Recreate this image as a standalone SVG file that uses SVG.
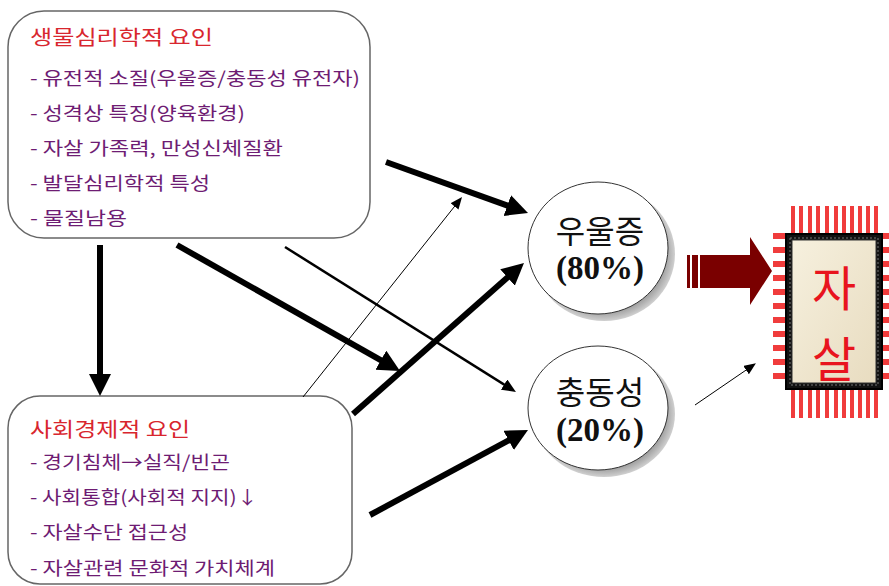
<svg xmlns="http://www.w3.org/2000/svg" width="889" height="586" viewBox="0 0 889 586">
<defs>
<style>
.box{fill:#fff;stroke:#666;stroke-width:1.5}
.ttl{font-family:"Noto Sans CJK KR","Liberation Sans",sans-serif;font-size:20px;fill:#d8262e}
.itm{font-family:"Noto Sans CJK KR","Liberation Sans",sans-serif;font-size:18px;fill:#6e1c73}
.kr{font-family:"Noto Sans CJK KR",sans-serif;font-size:32px;fill:#111}
.pct{font-family:"Liberation Serif","Times New Roman",serif;font-weight:700;font-size:33px;fill:#111}
.big{font-family:"Noto Sans CJK KR",sans-serif;font-size:48px;fill:#e8141e}
.thick{stroke:#000;stroke-width:6;fill:none}
.med{stroke:#000;stroke-width:2.5;fill:none}
.thin{stroke:#000;stroke-width:1;fill:none}
.spk{stroke:#f03c3c;fill:none}
</style>
<marker id="ah" markerUnits="userSpaceOnUse" markerWidth="24" markerHeight="24" refX="12" refY="11" orient="auto">
<path d="M0,0 L22,11 L0,22 z" fill="#000"/>
</marker>
<marker id="am" markerUnits="userSpaceOnUse" markerWidth="16" markerHeight="14" refX="8" refY="6" orient="auto">
<path d="M0,0 L14,6 L0,12 z" fill="#000"/>
</marker>
<marker id="as" markerUnits="userSpaceOnUse" markerWidth="14" markerHeight="12" refX="6" refY="5" orient="auto">
<path d="M0,0 L12,5 L0,10 z" fill="#000"/>
</marker>
<radialGradient id="sh" cx="0.5" cy="0.5" r="0.5">
<stop offset="0.85" stop-color="#9a9a9a"/>
<stop offset="1" stop-color="#d0d0d0"/>
</radialGradient>
<linearGradient id="beige" x1="0" y1="0" x2="1" y2="1">
<stop offset="0" stop-color="#f6f0de"/>
<stop offset="1" stop-color="#e8dcc0"/>
</linearGradient>
</defs>

<g id="bio">
<rect class="box" x="8" y="11" width="362" height="227" rx="36" ry="36"/>
<text class="ttl" x="30" y="45" textLength="183" lengthAdjust="spacingAndGlyphs">생물심리학적 요인</text>
<text class="itm" x="30" y="85" textLength="330" lengthAdjust="spacingAndGlyphs">- 유전적 소질(우울증/충동성 유전자)</text>
<text class="itm" x="30" y="120" textLength="215" lengthAdjust="spacingAndGlyphs">- 성격상 특징(양육환경)</text>
<text class="itm" x="30" y="155" textLength="253" lengthAdjust="spacingAndGlyphs">- 자살 가족력, 만성신체질환</text>
<text class="itm" x="30" y="190" textLength="180" lengthAdjust="spacingAndGlyphs">- 발달심리학적 특성</text>
<text class="itm" x="30" y="225" textLength="97" lengthAdjust="spacingAndGlyphs">- 물질남용</text>
</g>

<g id="socio">
<rect class="box" x="8" y="396" width="344" height="188" rx="32" ry="32"/>
<text class="ttl" x="30" y="437" textLength="160" lengthAdjust="spacingAndGlyphs">사회경제적 요인</text>
<text class="itm" x="30" y="469" textLength="200" lengthAdjust="spacingAndGlyphs">- 경기침체→실직/빈곤</text>
<text class="itm" x="30" y="504" textLength="228" lengthAdjust="spacingAndGlyphs">- 사회통합(사회적 지지)↓</text>
<text class="itm" x="30" y="539" textLength="158" lengthAdjust="spacingAndGlyphs">- 자살수단 접근성</text>
<text class="itm" x="30" y="575" textLength="245" lengthAdjust="spacingAndGlyphs">- 자살관련 문화적 가치체계</text>
</g>

<g id="depression">
<ellipse cx="604" cy="254" rx="71" ry="67" fill="url(#sh)"/>
<ellipse cx="598" cy="248" rx="70" ry="66" fill="#fff" stroke="#333" stroke-width="1"/>
<text class="kr" x="600" y="243" text-anchor="middle">우울증</text>
<text class="pct" x="600" y="279" text-anchor="middle">(80%)</text>
</g>

<g id="impulsivity">
<ellipse cx="604" cy="414" rx="71" ry="63" fill="url(#sh)"/>
<ellipse cx="598" cy="408" rx="70" ry="62" fill="#fff" stroke="#333" stroke-width="1"/>
<text class="kr" x="600" y="404" text-anchor="middle">충동성</text>
<text class="pct" x="600" y="441" text-anchor="middle">(20%)</text>
</g>

<g id="big-arrow">
<rect x="687" y="255" width="3" height="33" fill="#7a0000"/>
<rect x="692" y="255" width="6" height="33" fill="#7a0000"/>
<polygon points="700,255 750,255 750,237 772,271 750,305 750,288 700,288" fill="#7a0000"/>
</g>

<g id="suicide">
<path class="spk" stroke-width="4" d="M793,206V236 M801,206V236 M810,206V236 M818,206V236 M827,206V236 M836,206V236 M844,206V236 M852,206V236 M860,206V236 M868,206V236 M876,206V236"/>
<path class="spk" stroke-width="4" d="M793,388V418 M801,388V418 M810,388V418 M818,388V418 M827,388V418 M836,388V418 M844,388V418 M852,388V418 M860,388V418 M868,388V418 M876,388V418"/>
<path class="spk" stroke-width="6" d="M773,236H790 M773,250H790 M773,264H790 M773,278H790 M773,292H790 M773,306H790 M773,320H790 M773,334H790 M773,348H790 M773,362H790 M773,376H790"/>
<path class="spk" stroke-width="6" d="M878,236H889 M878,250H889 M878,264H889 M878,278H889 M878,292H889 M878,306H889 M878,320H889 M878,334H889 M878,348H889 M878,362H889 M878,376H889"/>
<rect x="786" y="234" width="96" height="155" fill="#111" stroke="#000" stroke-width="2"/>
<rect x="790" y="238" width="88" height="147" fill="none" stroke="#777" stroke-width="1" stroke-dasharray="2,2"/>
<rect x="792" y="240" width="84" height="143" fill="url(#beige)" stroke="#333" stroke-width="1"/>
<text class="big" x="834" y="306" text-anchor="middle">자</text>
<text class="big" x="834" y="377" text-anchor="middle">살</text>
</g>

<g id="connectors">
<line class="thick" x1="100" y1="245" x2="100" y2="386" marker-end="url(#ah)"/>
<line class="thick" x1="386" y1="162" x2="518.6" y2="209.6" marker-end="url(#ah)"/>
<line class="thin" x1="303" y1="397" x2="458.3" y2="201.7" marker-end="url(#as)"/>
<line class="thick" x1="177" y1="245" x2="391.3" y2="366.1" marker-end="url(#ah)"/>
<line class="med" x1="285" y1="247" x2="510.9" y2="388.8" marker-end="url(#am)"/>
<line class="thick" x1="353" y1="414" x2="516.5" y2="269.6" marker-end="url(#ah)"/>
<line class="thick" x1="370" y1="515" x2="519.2" y2="434.7" marker-end="url(#ah)"/>
<line class="thin" x1="695" y1="405" x2="751" y2="366.7" stroke-width="1.3" marker-end="url(#as)"/>
</g>
</svg>
